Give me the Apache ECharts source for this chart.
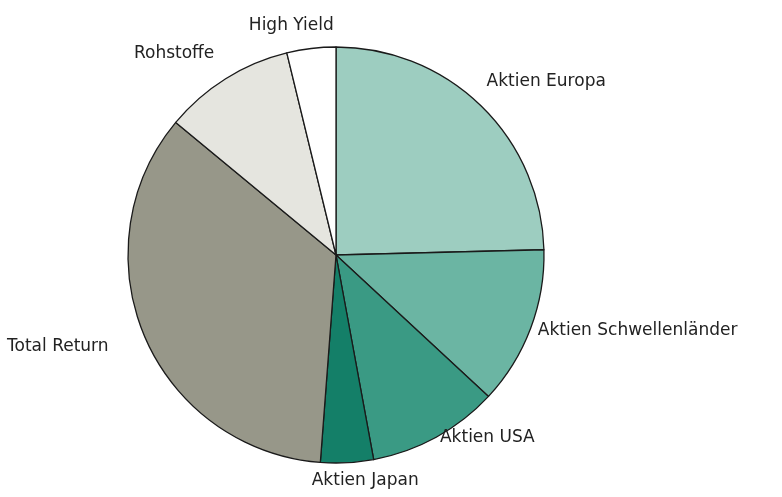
<!DOCTYPE html>
<html>
<head>
<meta charset="utf-8">
<script src="https://cdn.jsdelivr.net/npm/echarts@6/dist/echarts.min.js"></script>
<style>
  html, body { margin: 0; padding: 0; background: #fff; }
  #chart { width: 782px; height: 497px; }
</style>
</head>
<body>
<div id="chart"></div>
<script>
  // Anteile in Prozent, im Uhrzeigersinn ab 12 Uhr
  var categories = ['Aktien Europa', 'Aktien Schwellenländer', 'Aktien USA', 'Aktien Japan', 'Total Return', 'Rohstoffe', 'High Yield'];
  var values = [24.6, 12.3, 10.2, 4.1, 34.8, 10.2, 3.8];
  var colors = ['#9dcdc0', '#6bb5a3', '#3a9a84', '#147f68', '#979789', '#e5e5df', '#ffffff'];

  // kleine Verschiebungen der Beschriftungen (dx, dy)
  var labelShift = [[-8, -16], [-9, -2], [-7, -10], [-41, 6], [-20, 5], [0, -15], [29, -11]];

  var chart = echarts.init(document.getElementById('chart'));
  var data = [];
  categories.forEach(function (c, i) {
    data.push({ name: c, value: values[i], itemStyle: { color: colors[i] } });
  });

  chart.setOption({
    animation: false,
    series: [{
      type: 'pie',
      center: [336, 255],
      radius: 208,
      startAngle: 90,
      clockwise: true,
      avoidLabelOverlap: false,
      itemStyle: { borderColor: '#1a1a1a', borderWidth: 1.3 },
      label: {
        show: true,
        position: 'outside',
        color: '#222',
        fontFamily: 'DejaVu Sans',
        fontSize: 17,
        formatter: '{b}'
      },
      labelLine: { show: false, length: 12, length2: 0 },
      labelLayout: function (params) {
        var s = labelShift[params.dataIndex];
        return { dx: s[0], dy: s[1] };
      },
      emphasis: { disabled: true },
      data: data
    }]
  });
</script>
</body>
</html>
